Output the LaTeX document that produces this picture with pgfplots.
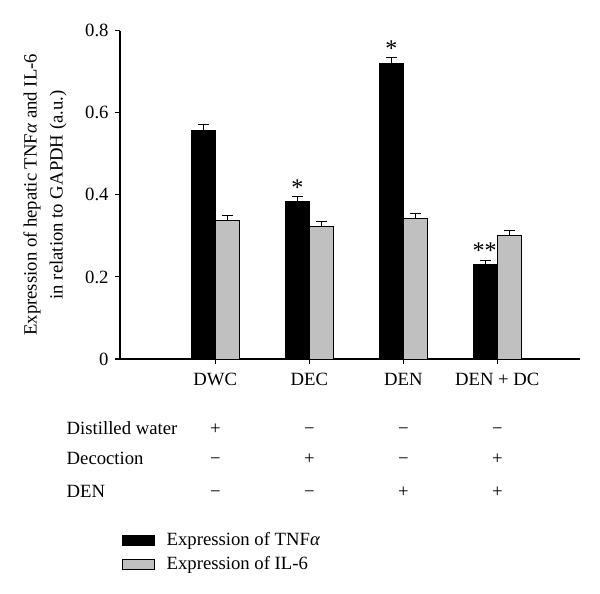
\documentclass[border=0pt]{standalone}
\usepackage{pgfplots}
\pgfplotsset{compat=1.18}
\usepackage{fontspec}
\setmainfont{Liberation Serif}
\definecolor{tnfblack}{RGB}{0,0,0}
\definecolor{ilgray}{RGB}{192,192,192}

% bar centres (group position -/+ half a bar), heights, upper error
\pgfplotstableread{
x       y      err
-0.128  0.557  0.014
0.872   0.385  0.011
1.872   0.720  0.015
2.872   0.230  0.011
}\tnf
\pgfplotstableread{
x       y      err
0.128   0.337  0.013
1.128   0.324  0.011
2.128   0.342  0.013
3.128   0.302  0.011
}\ilsix

\begin{document}
\fontsize{18.7}{21}\selectfont
\begin{tikzpicture}
\useasboundingbox (0,0) rectangle (600pt,594pt);
\begin{axis}[
    at={(120pt,235pt)}, anchor=south west,
    scale only axis, width=460pt, height=328.3pt,
    xmin=-1.014, xmax=3.88, ymin=0, ymax=0.8,
    axis lines=left, axis line style={-, line width=1.1pt},
    tick style={line width=1.1pt, black}, tick align=outside,
    major tick length=5pt,
    xtick={0,1,2,3}, xticklabels={DWC,DEC,DEN,DEN + DC},
    xticklabel style={yshift=-3pt},
    ytick={0,0.2,0.4,0.6,0.8},
    /pgf/number format/assume math mode=true,
    yticklabel style={/pgf/number format/fixed, /pgf/number format/precision=1},
    ylabel={Expression of hepatic TNF\textit{α} and IL-6\\in relation to GAPDH (a.u.)},
    ylabel style={align=center, font=\fontsize{18.7}{26}\selectfont,
        at={(axis description cs:-0.163,0.5)}, anchor=center},
    clip=false,
    legend image code/.code={\draw[#1, line width=0.8pt] (0pt,-5pt) rectangle (32pt,5pt);},
    legend style={at={(axis description cs:0.0037,-0.527)}, anchor=north west,
        draw=none, fill=none, inner sep=0pt, row sep=7pt, column sep=12pt,
        nodes={inner sep=0pt, text height=13pt, text depth=4pt}},
    legend cell align=left,
    error bars/y dir=plus, error bars/y explicit,
    error bars/error mark options={rotate=90, mark size=5.5pt, line width=1.1pt, black},
    error bars/error bar style={line width=1.1pt, black},
]
\addplot[ybar, bar width=0.255, bar shift=0pt, fill=tnfblack, draw=black, line width=0.9pt]
    table[x=x, y=y, y error=err] {\tnf};
\addlegendentry{Expression of TNF\textit{α}}
\addplot[ybar, bar width=0.255, bar shift=0pt, fill=ilgray, draw=black, line width=0.9pt]
    table[x=x, y=y, y error=err] {\ilsix};
\addlegendentry{Expression of IL-6}

% significance marks
\node[anchor=base, inner sep=0pt, font=\fontsize{24}{24}\selectfont] at (axis cs:0.872,0.399) {*};
\node[anchor=base, inner sep=0pt, font=\fontsize{24}{24}\selectfont] at (axis cs:1.872,0.737) {*};
\node[anchor=base, inner sep=0pt, font=\fontsize{24}{24}\selectfont] at (axis cs:2.866,0.246) {**};

% treatment table
\begin{scope}[every node/.style={inner sep=0pt}]
\node[anchor=base west] at (axis cs:-1.583,-0.1828) {Distilled water};
\node[anchor=base west] at (axis cs:-1.583,-0.2583) {Decoction};
\node[anchor=base west] at (axis cs:-1.583,-0.3363) {DEN};
\node[anchor=base] at (axis cs:0,-0.1828) {+};
\node[anchor=base] at (axis cs:1,-0.1828) {−};
\node[anchor=base] at (axis cs:2,-0.1828) {−};
\node[anchor=base] at (axis cs:3,-0.1828) {−};
\node[anchor=base] at (axis cs:0,-0.2583) {−};
\node[anchor=base] at (axis cs:1,-0.2583) {+};
\node[anchor=base] at (axis cs:2,-0.2583) {−};
\node[anchor=base] at (axis cs:3,-0.2583) {+};
\node[anchor=base] at (axis cs:0,-0.3363) {−};
\node[anchor=base] at (axis cs:1,-0.3363) {−};
\node[anchor=base] at (axis cs:2,-0.3363) {+};
\node[anchor=base] at (axis cs:3,-0.3363) {+};
\end{scope}
\end{axis}
\end{tikzpicture}
\end{document}
